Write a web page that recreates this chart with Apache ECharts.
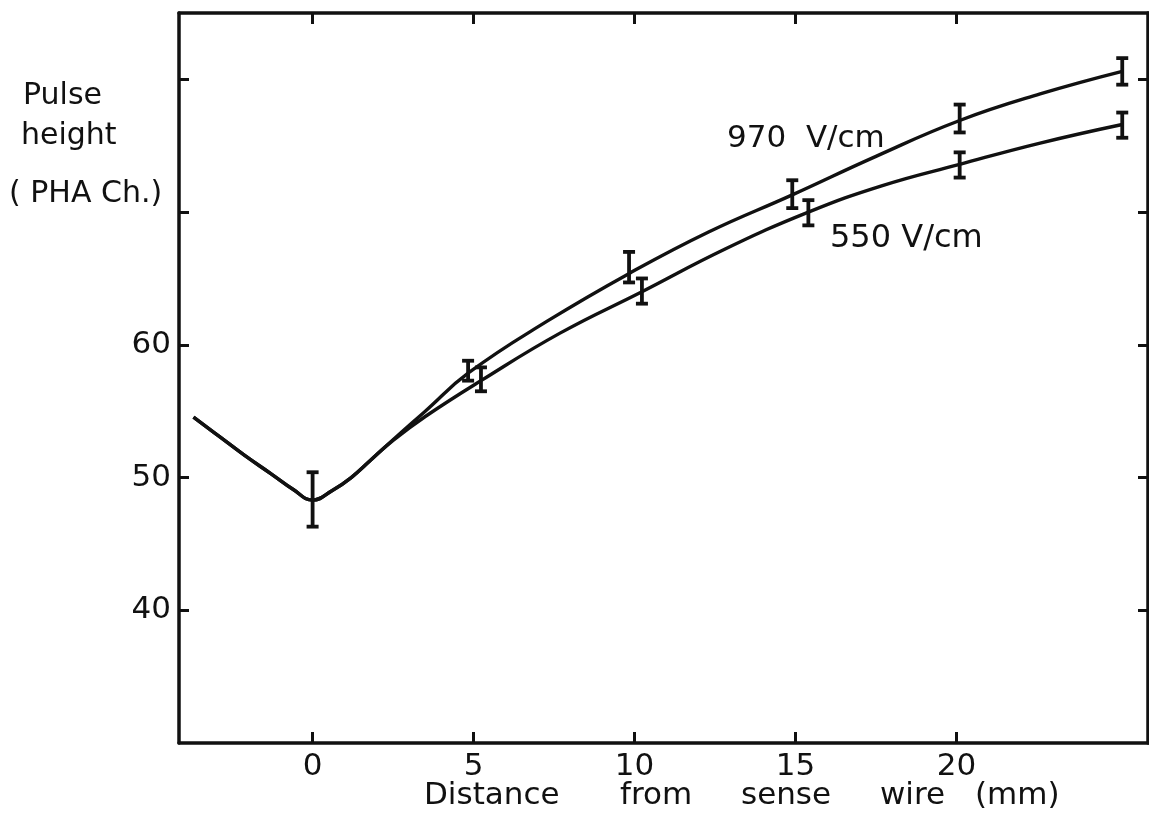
<!DOCTYPE html>
<html>
<head>
<meta charset="utf-8">
<script src="https://cdn.jsdelivr.net/npm/echarts@6/dist/echarts.min.js"></script>
<style>html,body{margin:0;padding:0;background:#fff}#c{width:1149px;height:816px}</style>
</head>
<body>
<div id="c"></div>
<script>
// ---- data ----
const xTickValues = [0, 5, 10, 15, 20];
const yTickValues = [40, 50, 60, 70, 80];
const yLabelValues = [40, 50, 60];

// common curve (both fields) left of the split
const commonX = [-3.7, -2.9, -2.1, -1.3, -0.6, 0, 0.6, 1.2, 1.8];
const commonY = [54.55, 53.1, 51.65, 50.3, 49.1, 48.3, 49.0, 50.0, 51.3];

// 970 V/cm branch (continues the common curve)
const curve970X = [2.5, 3.5, 4.85, 7.3, 9.85, 12.3, 14.9, 17.5, 20.1, 22.6, 25.15];
const curve970Y = [52.85, 55.0, 57.9, 61.8, 65.4, 68.5, 71.3, 74.2, 76.9, 78.9, 80.6];

// 550 V/cm branch (continues the common curve)
const curve550X = [2.5, 3.5, 5.23, 7.7, 10.23, 12.8, 15.4, 17.7, 20.1, 22.6, 25.15];
const curve550Y = [52.8, 54.6, 57.3, 60.9, 64.0, 67.2, 70.0, 72.0, 73.6, 75.2, 76.6];

// error bars
const err0X = [0];
const err0Lo = [46.3];
const err0Hi = [50.4];

const err970X = [4.83, 9.83, 14.9, 20.1, 25.15];
const err970Lo = [57.3, 64.7, 70.3, 76.0, 79.6];
const err970Hi = [58.8, 67.0, 72.4, 78.1, 81.6];

const err550X = [5.23, 10.23, 15.4, 20.1, 25.15];
const err550Lo = [56.5, 63.1, 69.0, 72.6, 75.6];
const err550Hi = [58.3, 65.0, 70.9, 74.5, 77.5];

// ---- build ----
const zip = (a, b) => a.map((v, i) => [v, b[i]]);
const zip3 = (a, b, c) => a.map((v, i) => [v, b[i], c[i]]);
const INK = '#111';
const FONT = 'DejaVu Sans';

function errRender(params, api) {
  const x = api.value(0), lo = api.value(1), hi = api.value(2);
  const pHi = api.coord([x, hi]);
  const pLo = api.coord([x, lo]);
  const cap = 6;
  const st = { stroke: INK, lineWidth: 3.8 };
  return {
    type: 'group',
    children: [
      { type: 'line', shape: { x1: pHi[0], y1: pHi[1], x2: pLo[0], y2: pLo[1] }, style: st },
      { type: 'line', shape: { x1: pHi[0] - cap, y1: pHi[1], x2: pHi[0] + cap, y2: pHi[1] }, style: st },
      { type: 'line', shape: { x1: pLo[0] - cap, y1: pLo[1], x2: pLo[0] + cap, y2: pLo[1] }, style: st }
    ]
  };
}

const lineStyle = { color: INK, width: 3.4 };
const axisLineStyle = { color: INK, width: 3.5 };

const xCommon = {
  type: 'value', min: -4.15, max: 25.95,
  splitLine: { show: false },
  axisLine: { show: true, onZero: false, lineStyle: axisLineStyle },
  axisTick: { show: true, inside: true, length: 11, customValues: xTickValues, lineStyle: { color: INK, width: 3 } }
};
const yCommon = {
  type: 'value', min: 30, max: 85,
  splitLine: { show: false },
  axisLine: { show: true, onZero: false, lineStyle: axisLineStyle },
  axisTick: { show: true, inside: true, length: 10, customValues: yTickValues, lineStyle: { color: INK, width: 3 } }
};

const full970 = zip(commonX.concat(curve970X), commonY.concat(curve970Y));
const full550 = zip(commonX.concat(curve550X), commonY.concat(curve550Y));

const option = {
  backgroundColor: '#fff',
  animation: false,
  grid: { left: 179, right: 1, top: 13, bottom: 73, containLabel: false },
  xAxis: [
    Object.assign({}, xCommon, {
      position: 'bottom',
      axisLabel: { show: true, customValues: xTickValues, margin: 8, color: INK, fontFamily: FONT, fontSize: 31 }
    }),
    Object.assign({}, xCommon, { position: 'top', axisLabel: { show: false } })
  ],
  yAxis: [
    Object.assign({}, yCommon, {
      position: 'left',
      axisLabel: { show: true, customValues: yLabelValues, margin: 8, color: INK, fontFamily: FONT, fontSize: 31 }
    }),
    Object.assign({}, yCommon, { position: 'right', axisLabel: { show: false } })
  ],
  series: [
    { name: '970 V/cm', type: 'line', data: full970, smooth: 0.45, showSymbol: false, lineStyle: lineStyle },
    { name: '550 V/cm', type: 'line', data: full550, smooth: 0.45, showSymbol: false, lineStyle: lineStyle },
    { type: 'custom', renderItem: errRender, data: zip3(err0X, err0Lo, err0Hi), encode: { x: 0, y: [1, 2] }, z: 5 },
    { type: 'custom', renderItem: errRender, data: zip3(err970X, err970Lo, err970Hi), encode: { x: 0, y: [1, 2] }, z: 5 },
    { type: 'custom', renderItem: errRender, data: zip3(err550X, err550Lo, err550Hi), encode: { x: 0, y: [1, 2] }, z: 5 }
  ],
  graphic: [
    { type: 'text', left: 23, top: 81, style: { text: 'Pulse', font: '30px "DejaVu Sans"', fill: INK } },
    { type: 'text', left: 21, top: 121, style: { text: 'height', font: '30px "DejaVu Sans"', fill: INK } },
    { type: 'text', left: 9, top: 179, style: { text: '( PHA Ch.)', font: '30px "DejaVu Sans"', fill: INK } },
    { type: 'text', left: 727, top: 123, style: { text: '970  V/cm', font: '31px "DejaVu Sans"', fill: INK } },
    { type: 'text', left: 830, top: 223, style: { text: '550 V/cm', font: '32px "DejaVu Sans"', fill: INK } },
    { type: 'text', left: 424, top: 780, style: { text: 'Distance', font: '31px "DejaVu Sans"', fill: INK } },
    { type: 'text', left: 620, top: 780, style: { text: 'from', font: '31px "DejaVu Sans"', fill: INK } },
    { type: 'text', left: 741, top: 780, style: { text: 'sense', font: '31px "DejaVu Sans"', fill: INK } },
    { type: 'text', left: 880, top: 780, style: { text: 'wire', font: '31px "DejaVu Sans"', fill: INK } },
    { type: 'text', left: 975, top: 780, style: { text: '(mm)', font: '31px "DejaVu Sans"', fill: INK } }
  ]
};

const chart = echarts.init(document.getElementById('c'), null, { renderer: 'canvas' });
chart.setOption(option);
</script>
</body>
</html>
